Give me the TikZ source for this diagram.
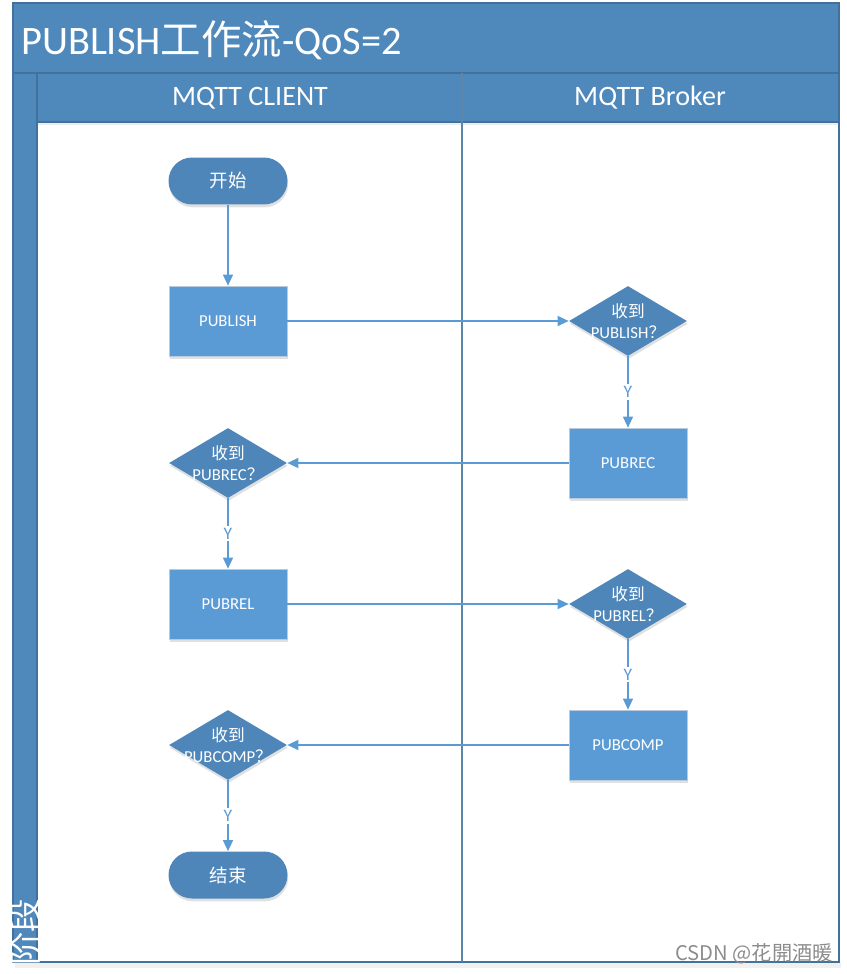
\documentclass[tikz,border=0pt]{standalone}
\usepackage{fontspec}
\setmainfont{Carlito}
\newfontfamily\cjk{Noto Sans CJK SC}
\usetikzlibrary{arrows.meta,shapes.geometric,shadows}

\definecolor{bandblue}{HTML}{4F88BB}
\definecolor{edgeblue}{HTML}{41719C}
\definecolor{boxblue}{HTML}{5B9BD5}
\definecolor{decblue}{HTML}{4E86BA}
\definecolor{boxedge}{HTML}{B9CBDD}

\tikzset{
	softshadow/.style={drop shadow={shadow xshift=0.4pt, shadow yshift=-1.6pt, opacity=0.12, fill=black}},
	stepbox/.style={draw=boxedge, fill=boxblue, minimum width=2.36cm, minimum height=1.4cm, text=white, font=\fontsize{9.5}{11}\selectfont, softshadow},
	decision/.style={diamond, fill=decblue, minimum width=2.36cm, minimum height=1.4cm, inner sep=0pt, softshadow},
	dectext/.style={text=white, align=center, inner sep=0pt, font=\fontsize{9.5}{12}\selectfont},
	terminal/.style={rectangle, rounded corners=0.47cm, fill=decblue, minimum width=2.38cm, minimum height=0.94cm, text=white, font=\cjk\fontsize{10.5}{12}\selectfont, softshadow},
	flow/.style={draw=boxblue, line width=0.8pt, -{Triangle[length=0.22cm, width=0.2cm]}},
	ylabel/.style={fill=white, text=boxblue, inner sep=1.2pt, font=\fontsize{10}{11}\selectfont},
}

\begin{document}
\begin{tikzpicture}[x=0.02cm, y=-0.02cm]
		%%%%% START %%%%%
		\useasboundingbox (0, 0) rectangle (846, 974);
		
		% frame and lanes
		\fill[black!6] (15, 962) rectangle (841, 968);
		\fill[bandblue] (13, 3) rectangle (839, 73);
		\fill[bandblue] (13, 73) rectangle (37, 962);
		\fill[bandblue] (37, 73) rectangle (839, 122);
		\fill[black!7] (37, 122) rectangle (839, 125);
		\draw[edgeblue, line width=0.6pt] (13, 3) rectangle (839, 962);
		\draw[edgeblue, line width=0.6pt] (13, 73) -- (839, 73);
		\draw[edgeblue, line width=0.6pt] (37, 73) -- (37, 962);
		\draw[edgeblue, line width=0.6pt] (37, 122) -- (839, 122);
		\draw[edgeblue!85, line width=1.4pt] (462, 73) -- (462, 962);
		
		\node[anchor=west, text=white, font=\fontsize{23}{27}\selectfont] (title) at (15, 40) {PUBLISH{\cjk 工作流}-QoS=2};
		\node[text=white, font=\fontsize{16}{19}\selectfont] (client) at (250, 98) {MQTT CLIENT};
		\node[text=white, font=\fontsize{16}{19}\selectfont] (broker) at (650, 98) {MQTT Broker};
		\node[rotate=90, anchor=west, inner sep=0pt, text=white, font=\cjk\fontsize{19}{22}\selectfont] (phase) at (25, 966) {阶段};
		
		% client lane
		\node[terminal] (start) at (228, 181) {开始};
		\node[stepbox] (publish) at (228, 321) {PUBLISH};
		\node[decision, label={[dectext]center:{\cjk 收到}\\PUBREC{\cjk ？}}] (gotrec) at (228, 463) {};
		\node[stepbox] (pubrel) at (228, 604) {PUBREL};
		\node[decision, label={[dectext]center:{\cjk 收到}\\PUBCOMP{\cjk ？}}] (gotcomp) at (228, 745) {};
		\node[terminal] (stop) at (228, 875) {结束};
		
		% broker lane
		\node[decision, label={[dectext]center:{\cjk 收到}\\PUBLISH{\cjk ？}}] (gotpub) at (628, 321) {};
		\node[stepbox] (pubrec) at (628, 463) {PUBREC};
		\node[decision, label={[dectext]center:{\cjk 收到}\\PUBREL{\cjk ？}}] (gotrel) at (628, 604) {};
		\node[stepbox] (pubcomp) at (628, 745) {PUBCOMP};
		
		% flow
		\draw[flow] (start) -- (publish);
		\draw[flow] (publish) -- (gotpub);
		\draw[flow] (gotpub) -- node[ylabel] {Y} (pubrec);
		\draw[flow] (pubrec) -- (gotrec);
		\draw[flow] (gotrec) -- node[ylabel] {Y} (pubrel);
		\draw[flow] (pubrel) -- (gotrel);
		\draw[flow] (gotrel) -- node[ylabel] {Y} (pubcomp);
		\draw[flow] (pubcomp) -- (gotcomp);
		\draw[flow] (gotcomp) -- node[ylabel] {Y} (stop);
		
		\node[anchor=base east, text=black!45, inner sep=0pt, font=\cjk\fontsize{11.5}{14}\selectfont] (mark) at (833, 960) {CSDN @花開酒暖};
		%%%%% END %%%%%
\end{tikzpicture}
\end{document}
